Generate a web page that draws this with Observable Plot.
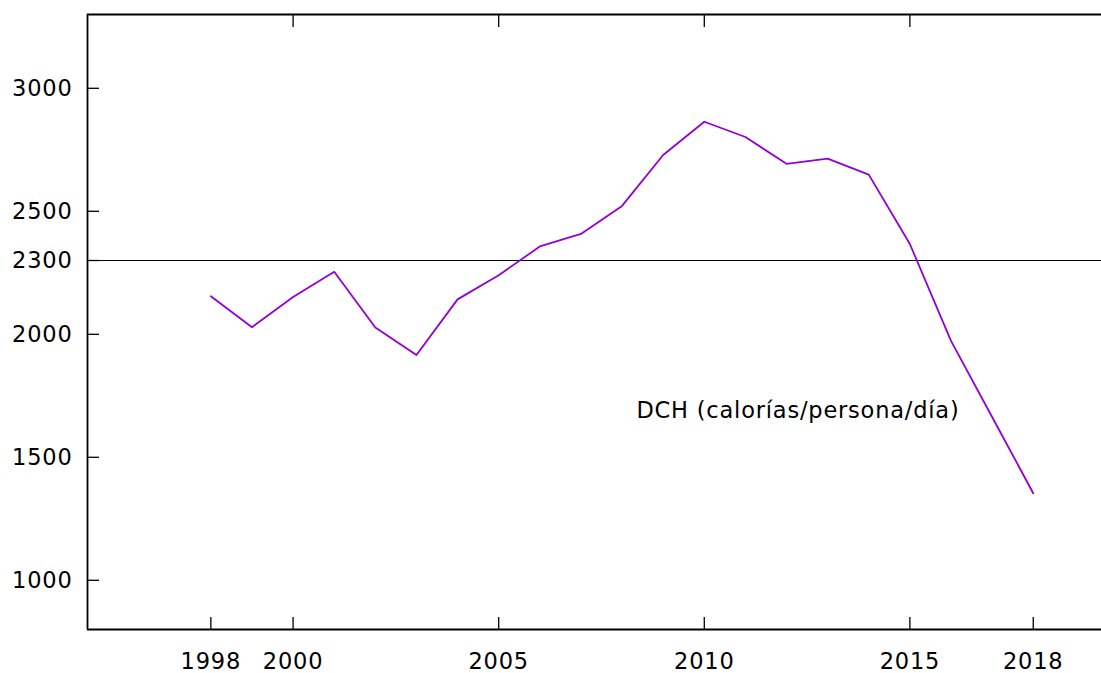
<!DOCTYPE html>
<html>
<head>
<meta charset="utf-8">
<script src="https://cdn.jsdelivr.net/npm/d3@7"></script>
<script src="https://cdn.jsdelivr.net/npm/@observablehq/plot@0.6"></script>
<style>
  html, body { margin: 0; padding: 0; background: #fff; overflow: hidden; }
</style>
</head>
<body>
<div id="chart"></div>
<script>
const years = [1998, 1999, 2000, 2001, 2002, 2003, 2004, 2005, 2006, 2007, 2008, 2009, 2010, 2011, 2012, 2013, 2014, 2015, 2016, 2017, 2018];
const dch = [2155, 2029, 2152, 2254, 2028, 1916, 2142, 2240, 2357, 2408, 2522, 2729, 2864, 2802, 2693, 2714, 2649, 2367, 1973, 1664, 1354];
const yTicks = [1000, 1500, 2000, 2300, 2500, 3000];
const xTicksBottom = [1998, 2000, 2005, 2010, 2015, 2018];
const xTicksTop = [2000, 2005, 2010, 2015];
const reference = [2300];
const labelText = "DCH (calorías/persona/día)";
const labelPos = [{x: 2008.35, y: 1689}];

const data = years.map((y, i) => ({year: y, value: dch[i]}));
const fmt = d => String(d);

const chart = Plot.plot({
  width: 1101,
  height: 673,
  marginLeft: 87,
  marginRight: 0,
  marginTop: 14,
  marginBottom: 44,
  style: {fontFamily: "DejaVu Sans", fontSize: "22.5px", letterSpacing: "0.8px", background: "white", color: "black"},
  x: {domain: [1995, 2019.66]},
  y: {domain: [800, 3300]},
  marks: [
    Plot.ruleY(reference, {stroke: "black", strokeWidth: 1.1}),
    Plot.axisY(yTicks, {tickSize: -12, text: null, strokeWidth: 1.3, label: null}),
    Plot.axisY(yTicks, {tickSize: 0, tickPadding: 15, tickFormat: fmt, label: null}),
    Plot.axisX(xTicksBottom, {anchor: "bottom", tickSize: -12, text: null, strokeWidth: 1.3, label: null}),
    Plot.axisX(xTicksBottom, {anchor: "bottom", tickSize: 0, tickPadding: 24, tickFormat: fmt, label: null}),
    Plot.axisX(xTicksTop, {anchor: "top", tickSize: -12, text: null, strokeWidth: 1.3, label: null}),
    Plot.lineY(data, {x: "year", y: "value", stroke: "#9400d3", strokeWidth: 1.8}),
    Plot.ruleX([1995], {stroke: "black", strokeWidth: 1.8}),
    Plot.ruleY([800, 3300], {stroke: "black", strokeWidth: 1.8}),
    Plot.text(labelPos, {x: "x", y: "y", text: () => labelText, textAnchor: "start", fill: "black"})
  ]
});
document.getElementById("chart").appendChild(chart);
</script>
</body>
</html>
